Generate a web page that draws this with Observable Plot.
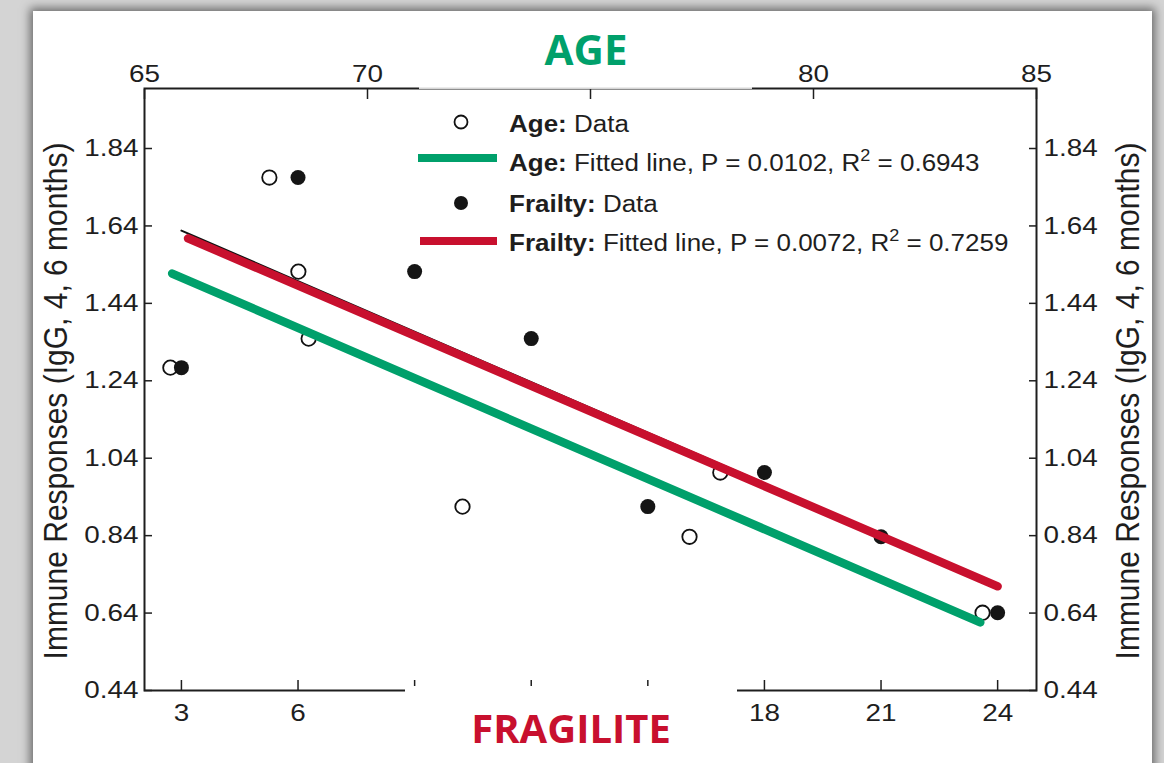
<!DOCTYPE html>
<html><head><meta charset="utf-8">
<script src="https://cdn.jsdelivr.net/npm/d3@7"></script>
<script src="https://cdn.jsdelivr.net/npm/@observablehq/plot@0.6"></script>
<style>
body{margin:0;background:#fff;}
#wrap{position:relative;width:1164px;height:763px;overflow:hidden;background:#d4d4d4;font-family:'Liberation Sans',Arial,sans-serif;color:#222;}
#panel{position:absolute;left:33px;top:11px;width:1119px;height:820px;background:#fff;box-shadow:0 0 9px 3px rgba(0,0,0,0.5);}
#chart{position:absolute;left:0;top:0;z-index:1;}
.box{position:absolute;z-index:2;}
.leg{position:absolute;z-index:3;white-space:nowrap;font-size:23px;line-height:23px;transform:scaleX(1.13);transform-origin:left center;color:#1e1e1e;}
.leg .sup{font-size:16px;position:relative;top:-10px;}
.ytitle{position:absolute;z-index:3;white-space:nowrap;font-size:30px;transform:translate(-50%,-50%) rotate(-90deg) scaleY(1.08);color:#1e1e1e;}
.big{position:absolute;z-index:4;white-space:nowrap;font-family:'Open Sans',sans-serif;font-weight:700;font-size:42px;transform:translate(-50%,-50%);}
</style></head>
<body>
<div id="wrap">
  <div id="panel"></div>
  <div id="chart"></div>
</div>
<script>
// ---- data ----
const frailtyLevels = [3, 6, 9, 12, 15, 18, 21, 24];
const frailtyResponse = [1.274, 1.765, 1.522, 1.349, 0.915, 1.003, 0.837, 0.641];
const ageYears = [65.58, 67.80, 68.45, 68.68, 72.13, 77.22, 77.91, 83.79];
const ageResponse = [1.274, 1.765, 1.522, 1.349, 0.915, 0.837, 1.003, 0.641];
const ageFitAge = [65.62, 83.74];
const ageFitResponse = [1.517, 0.616];
const frailtyFitLevel = [3.17, 24];
const frailtyFitResponse = [1.608, 0.709];
const frailtyFitRefLevel = [3, 24];
const frailtyFitRefResponse = [1.628, 0.714];
const yTicks = [0.44, 0.64, 0.84, 1.04, 1.24, 1.44, 1.64, 1.84];
const frailtyTicksShown = [3, 6, 18, 21, 24];
const frailtyTicksCovered = [9, 12, 15];
const ageTicksShown = [65, 70, 80, 85];
const ageTicksCovered = [75];
const frailtyDomain = [2.05, 25.0];
const ageDomain = [65, 85];
const yDomain = [0.44, 1.995];
const legendItems = [
  {name: "Age:", text: "Data"},
  {name: "Age:", text: "Fitted line, P = 0.0102, R", sup: "2", tail: " = 0.6943"},
  {name: "Frailty:", text: "Data"},
  {name: "Frailty:", text: "Fitted line, P = 0.0072, R", sup: "2", tail: " = 0.7259"}
];
const yTitle = "Immune Responses (IgG, 4, 6 months)";
const GREEN = "#00a06b", RED = "#c8102e";

// age -> shared x (frailty) coordinate
const ageToX = a => frailtyDomain[0] + (a - ageDomain[0]) / (ageDomain[1] - ageDomain[0]) * (frailtyDomain[1] - frailtyDomain[0]);
const xToAge = x => ageDomain[0] + (x - frailtyDomain[0]) / (frailtyDomain[1] - frailtyDomain[0]) * (ageDomain[1] - ageDomain[0]);

const ageData = ageYears.map((a, i) => ({x: ageToX(a), y: ageResponse[i]}));
const frailData = frailtyLevels.map((f, i) => ({x: f, y: frailtyResponse[i]}));
const ageFit = ageFitAge.map((a, i) => ({x: ageToX(a), y: ageFitResponse[i]}));
const frailFit = frailtyFitLevel.map((f, i) => ({x: f, y: frailtyFitResponse[i]}));
const frailRef = frailtyFitRefLevel.map((f, i) => ({x: f, y: frailtyFitRefResponse[i]}));

const axisStyle = {label: null, strokeWidth: 1.5, fill: "#1e1e1e"};
const chart = Plot.plot({
  width: 1164, height: 763,
  marginLeft: 144, marginRight: 128, marginTop: 88, marginBottom: 73,
  style: {background: "transparent", fontFamily: "'Liberation Sans', Arial, sans-serif", fontSize: "24px", color: "#1e1e1e"},
  x: {domain: frailtyDomain},
  y: {domain: yDomain},
  marks: [
    Plot.axisY(yTicks, {anchor: "left", tickSize: -8, tickPadding: 14, tickFormat: d => d.toFixed(2), ...axisStyle}),
    Plot.axisY(yTicks, {anchor: "right", tickSize: -8, tickPadding: 15, tickFormat: d => d.toFixed(2), ...axisStyle}),
    Plot.axisX(frailtyTicksShown, {anchor: "bottom", tickSize: -10, tickPadding: 23, ...axisStyle}),
    Plot.axisX(frailtyTicksCovered, {anchor: "bottom", tickSize: -10, tickFormat: () => "", ...axisStyle}),
    Plot.axisX(ageTicksShown.map(ageToX), {anchor: "top", tickSize: -10, tickPadding: 17, tickFormat: x => Math.round(xToAge(x)), ...axisStyle}),
    Plot.axisX(ageTicksCovered.map(ageToX), {anchor: "top", tickSize: -10, tickFormat: () => "", ...axisStyle}),
    Plot.frame({stroke: "#1e1e1e", strokeWidth: 2}),
    Plot.dot(ageData, {x: "x", y: "y", r: 7.2, fill: "white", stroke: "#111", strokeWidth: 1.8}),
    Plot.dot(frailData, {x: "x", y: "y", r: 7.5, fill: "#151515"}),
    Plot.line(frailRef, {x: "x", y: "y", stroke: "#111", strokeWidth: 2}),
    Plot.line(ageFit, {x: "x", y: "y", stroke: GREEN, strokeWidth: 8.5}),
    Plot.line(frailFit, {x: "x", y: "y", stroke: RED, strokeWidth: 8.5})
  ]
});
document.getElementById("chart").appendChild(chart);

// widen tick labels slightly, as in the (horizontally stretched) original figure
chart.querySelectorAll('g[aria-label$="tick label"] text').forEach(t => {
  if (!t.textContent) return;
  const len = t.getComputedTextLength();
  t.setAttribute("textLength", (len * 1.16).toFixed(1));
  t.setAttribute("lengthAdjust", "spacingAndGlyphs");
});

const wrap = document.getElementById("wrap");
function add(html, cls, style) {
  const d = document.createElement("div");
  d.className = cls; d.innerHTML = html; Object.assign(d.style, style);
  wrap.appendChild(d); return d;
}
// white cover boxes over parts of the top and bottom axes
add("", "box", {left: "419px", top: "18px", width: "333px", height: "70.5px", background: "rgba(255,255,255,0.82)"});
add("", "box", {left: "405px", top: "686px", width: "332px", height: "80px", background: "#fff"});

// titles
add("AGE", "big", {left: "586px", top: "48px", color: GREEN});
add("FRAGILITE", "big", {left: "571px", top: "727px", color: RED, fontSize: "40px"});
add(yTitle, "ytitle", {left: "56px", top: "401px"});
add(yTitle, "ytitle", {left: "1128px", top: "401px"});

// legend symbols
const ns = "http://www.w3.org/2000/svg";
const lsvg = document.createElementNS(ns, "svg");
lsvg.setAttribute("width", 1164); lsvg.setAttribute("height", 763);
Object.assign(lsvg.style, {position: "absolute", left: 0, top: 0, zIndex: 3});
lsvg.innerHTML =
  `<circle cx="461" cy="122" r="6.5" fill="white" stroke="#111" stroke-width="1.8"/>` +
  `<line x1="418" x2="497" y1="158" y2="158" stroke="${GREEN}" stroke-width="8"/>` +
  `<circle cx="461" cy="203" r="7" fill="#151515"/>` +
  `<line x1="420" x2="497" y1="241" y2="241" stroke="${RED}" stroke-width="8"/>`;
wrap.appendChild(lsvg);
const legY = [124, 163, 204, 243];
legendItems.forEach((it, i) => {
  const html = `<b>${it.name}</b> ${it.text}` + (it.sup ? `<span class="sup">${it.sup}</span>${it.tail}` : "");
  add(html, "leg", {left: "509px", top: (legY[i] - 11.5) + "px"});
});
</script>
</body></html>
